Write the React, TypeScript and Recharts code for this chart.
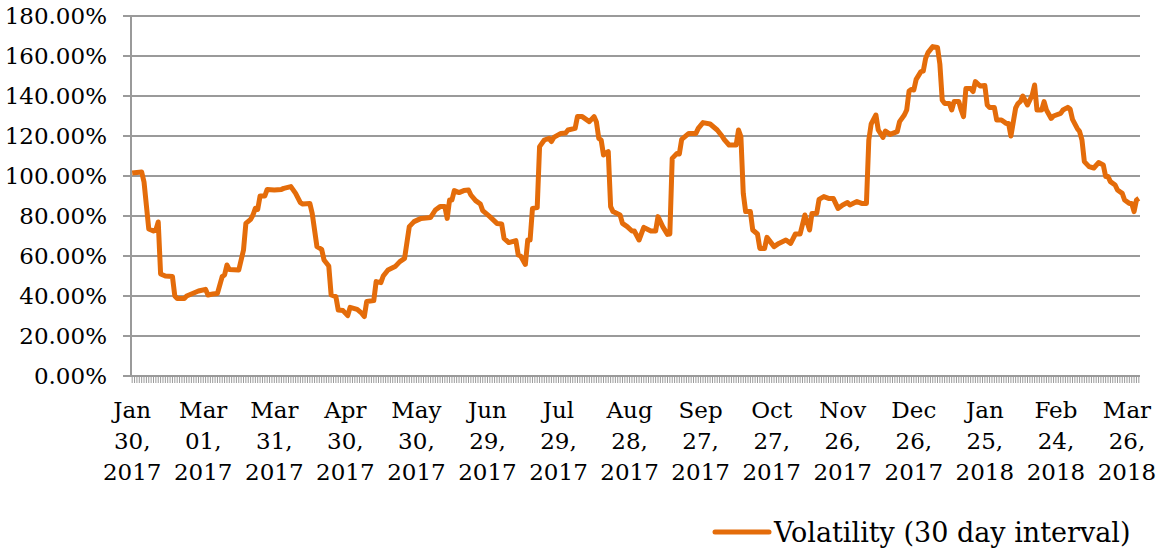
import { Line, LineChart, CartesianGrid, Legend, XAxis, YAxis } from 'recharts';

// day offsets counted from Jan 30, 2017 and the 30-day volatility (%)
const days = [
  0, 2, 4, 5, 7, 9, 10, 11, 12, 14, 17, 18, 19, 22, 23, 26, 28, 31, 32, 34, 36, 38, 39, 40, 41, 45, 47, 48,
  50, 51, 52, 53, 54, 56, 57, 60, 63, 64, 67, 69, 71, 72, 75, 76, 78, 80, 81, 83, 84, 86, 87, 89, 91, 92,
  95, 97, 98, 99, 102, 103, 105, 106, 108, 111, 113, 115, 117, 119, 122, 126, 128, 130, 132, 133, 134, 135,
  136, 138, 140, 142, 143, 145, 147, 148, 151, 154, 156, 157, 159, 162, 163, 164, 166, 167, 168, 169, 171,
  172, 174, 176, 177, 178, 181, 183, 184, 187, 188, 190, 193, 195, 196, 197, 198, 199, 201, 202, 203, 206,
  207, 209, 211, 212, 214, 216, 219, 221, 222, 224, 226, 227, 228, 230, 231, 232, 233, 235, 238, 239, 241,
  244, 247, 249, 250, 252, 255, 256, 257, 258, 259, 261, 262, 264, 265, 267, 268, 271, 273, 276, 278, 280,
  282, 284, 286, 287, 289, 290, 292, 294, 296, 298, 300, 302, 303, 306, 308, 310, 311, 312, 314, 315, 317,
  318, 320, 323, 324, 326, 327, 328, 329, 330, 331, 333, 334, 335, 336, 338, 340, 341, 342, 343, 345, 346,
  347, 349, 350, 351, 352, 354, 355, 356, 358, 360, 361, 362, 364, 365, 367, 369, 370, 371, 372, 373, 374,
  375, 376, 378, 380, 381, 382, 384, 385, 386, 388, 389, 392, 393, 395, 396, 397, 399, 400, 401, 402, 404,
  406, 408, 410, 411, 412, 413, 415, 416, 418, 419, 421, 422, 423, 424, 425,
];

const volatility = [
  101.5, 101.8, 102, 97, 73.5, 72.5, 73, 77, 51, 50, 49.7, 40, 38.8, 38.8, 40, 41.5, 42.5, 43.3, 40.5, 41,
  41.3, 49.7, 50.5, 55.5, 53.3, 53, 63, 76.3, 78.3, 80.5, 83.8, 83.3, 90, 90, 93.3, 93, 93.3, 93.8, 94.7,
  91.3, 86.7, 86, 86.3, 81.3, 64.7, 63.3, 58, 55, 40.5, 39.7, 33, 32.7, 30.2, 34.3, 33.3, 31.3, 29.7, 37.2,
  37.7, 47.2, 46.7, 50, 53, 54.7, 57.2, 58.8, 74.7, 77.2, 78.8, 79.3, 83, 84.7, 84.7, 78.8, 88, 88, 92.7,
  91.7, 92.7, 93, 90.5, 87.7, 86, 82.7, 79.7, 76.3, 76, 68.8, 66.7, 67.7, 60.5, 60, 55.8, 68, 68, 83.8,
  84.2, 114.7, 118, 118.8, 117.2, 119.3, 121.3, 121.5, 123, 123.8, 129.7, 129.7, 127.2, 129.7, 127, 118.8,
  118, 110.5, 112.2, 84.7, 82.2, 80.5, 76.3, 74.7, 72.5, 72.5, 68, 74.3, 72.5, 72.5, 79.7, 74.7, 70.8, 71,
  108.8, 111.3, 111, 118.3, 119.3, 121.3, 121.3, 123.8, 126.7, 126, 123, 120, 118.2, 115.5, 115.5, 123,
  119.7, 91.3, 82.2, 82.2, 73, 71, 63.8, 63.8, 69.3, 64.7, 66.3, 68, 66.3, 71, 71, 80.5, 73, 81.3, 81.3,
  88.3, 89.7, 88.8, 88.8, 83.8, 85.5, 86.7, 85.5, 87.2, 86.3, 86.3, 118, 126, 130.5, 123, 119.3, 122.5,
  120.8, 122.2, 127.2, 130.5, 133, 142.5, 143.3, 143, 148.3, 152.2, 152.5, 158.8, 161.7, 164.7, 164.3, 156,
  138, 136.3, 136.3, 133, 137.2, 137.2, 133, 129.7, 143.8, 143.8, 142.2, 147.2, 145, 145.2, 135.5, 134.3,
  134.3, 128, 128, 126.3, 126.3, 120, 127, 134, 136.3, 137.2, 140, 135.5, 140.5, 145.5, 133, 133, 137.2,
  133, 128.8, 130, 131.3, 133, 134.3, 133.5, 128.3, 123.8, 122.2, 118, 107.2, 104.7, 104, 106.7, 105.5,
  99.7, 99.7, 97.2, 95.5, 93, 91.3, 88, 86.3, 86.3, 82.2, 88, 88.8,
];

const labelDays = [0, 30, 60, 90, 120, 150, 180, 210, 240, 270, 300, 330, 360, 390, 420];
const tickLabels = [
  ['Jan', '30,', '2017'],
  ['Mar', '01,', '2017'],
  ['Mar', '31,', '2017'],
  ['Apr', '30,', '2017'],
  ['May', '30,', '2017'],
  ['Jun', '29,', '2017'],
  ['Jul', '29,', '2017'],
  ['Aug', '28,', '2017'],
  ['Sep', '27,', '2017'],
  ['Oct', '27,', '2017'],
  ['Nov', '26,', '2017'],
  ['Dec', '26,', '2017'],
  ['Jan', '25,', '2018'],
  ['Feb', '24,', '2018'],
  ['Mar', '26,', '2018'],
];
const yTicks = [0, 20, 40, 60, 80, 100, 120, 140, 160, 180];
const seriesName = 'Volatility (30 day interval)';

const data = days.map((day, i) => ({ day, vol: volatility[i] }));
// one tick mark per day, as on the original category axis
const dayTicks = Array.from({ length: 426 }, (_, i) => i);

const ORANGE = '#E46C0A';
const GRID = '#9a9a9a';
const FONT = '"DejaVu Serif", serif';

const DateTick = (props: any) => {
  const { x, y, payload } = props;
  const idx = labelDays.indexOf(payload.value);
  if (idx < 0) return <g />;
  const lines = tickLabels[idx];
  return (
    <text x={x} y={y} textAnchor="middle" fill="#000" fontSize={23} fontFamily={FONT}>
      {lines.map((t, i) => (
        <tspan key={i} x={x} dy={i === 0 ? 33 : 31}>
          {t}
        </tspan>
      ))}
    </text>
  );
};

const LegendBox = () => (
  <div style={{ display: 'flex', alignItems: 'center', fontFamily: FONT, fontSize: 27, color: '#000', height: 36, whiteSpace: 'nowrap' }}>
    <svg width={60} height={10} style={{ marginRight: 2 }}>
      <line x1={3} y1={5} x2={57} y2={5} stroke={ORANGE} strokeWidth={5} strokeLinecap="round" />
    </svg>
    <span>{seriesName}</span>
  </div>
);

export default function App() {
  return (
    <div style={{ position: 'absolute', left: 0, top: 0 }}>
      <LineChart width={1158} height={551} data={data} margin={{ top: 16, right: 18, bottom: 65, left: 0 }}>
        <CartesianGrid vertical={false} stroke={GRID} strokeWidth={2} />
        <XAxis
          dataKey="day"
          type="number"
          domain={[-0.5, 425.5]}
          ticks={dayTicks}
          interval={0}
          height={110}
          axisLine={{ stroke: GRID, strokeWidth: 2 }}
          tickLine={{ stroke: GRID, strokeWidth: 1 }}
          tickSize={7}
          tick={<DateTick />}
        />
        <YAxis
          type="number"
          domain={[0, 180]}
          ticks={yTicks}
          width={131}
          axisLine={{ stroke: GRID, strokeWidth: 2 }}
          tickLine={{ stroke: GRID, strokeWidth: 2 }}
          tickSize={8}
          tickMargin={16}
          tickFormatter={(v: number) => `${v.toFixed(2)}%`}
          tick={{ fill: '#000', fontSize: 23, fontFamily: FONT }}
        />
        <Legend
          layout="horizontal"
          verticalAlign="middle"
          align="center"
          content={<LegendBox />}
          wrapperStyle={{ top: 514, left: 712, width: 446 }}
        />
        <Line
          type="linear"
          dataKey="vol"
          name={seriesName}
          stroke={ORANGE}
          strokeWidth={5}
          strokeLinejoin="round"
          dot={false}
          activeDot={false}
          isAnimationActive={false}
        />
      </LineChart>
    </div>
  );
}
